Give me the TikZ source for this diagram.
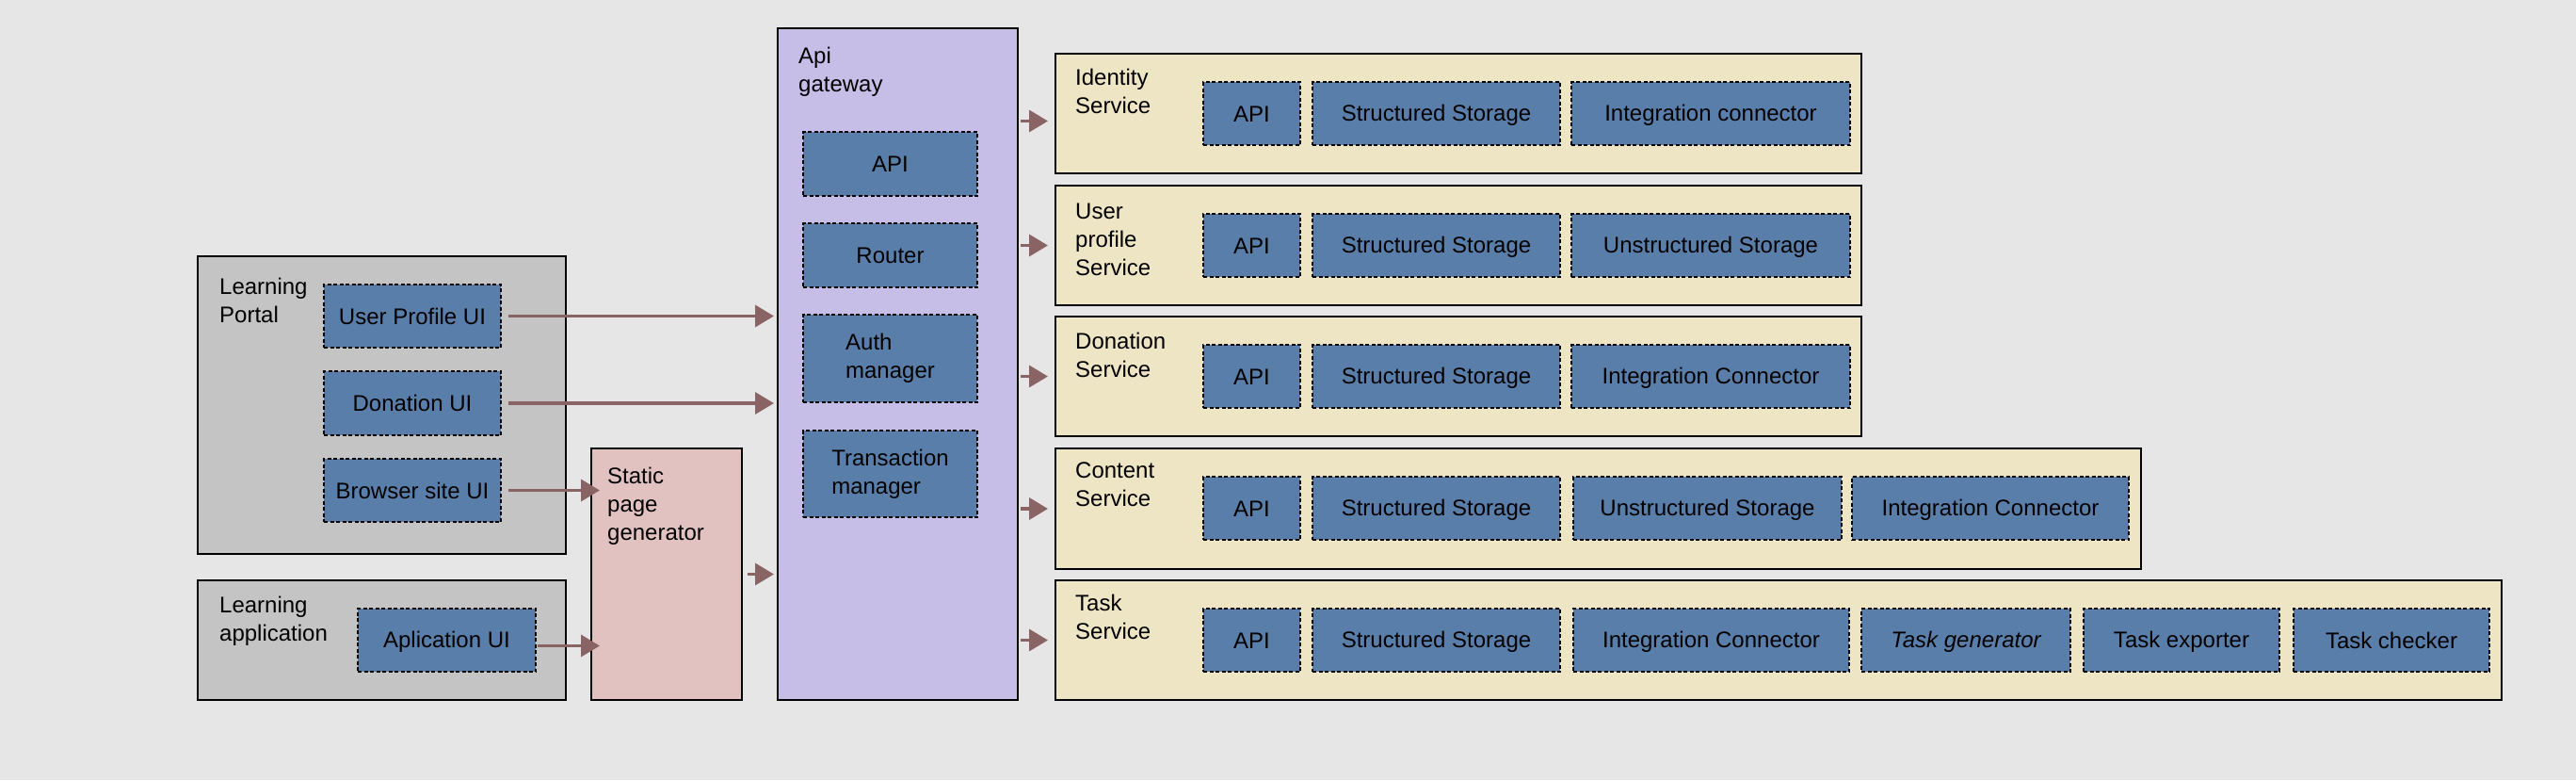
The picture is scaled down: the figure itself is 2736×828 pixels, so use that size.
\documentclass[tikz,border=0pt]{standalone}
\usepackage{fontspec}
\setmainfont{Liberation Sans}
\usetikzlibrary{arrows.meta, calc}

\definecolor{bgcol}{HTML}{E6E6E6}
\definecolor{greybox}{HTML}{C4C4C4}
\definecolor{partblue}{HTML}{5A7EAA}
\definecolor{pinkbox}{HTML}{E2C1C1}
\definecolor{lilacbox}{HTML}{C7BEE7}
\definecolor{sandbox}{HTML}{EDE5C4}
\definecolor{flowcol}{HTML}{8A6464}

\newcommand{\partstrut}{\rule[-4pt]{0pt}{25pt}}

\begin{document}
\begin{tikzpicture}[x=1pt, y=-1pt,
  container/.style={draw=black, line width=2.5pt, anchor=north west, inner sep=0pt, outer sep=0pt},
  part/.style={draw=black, fill=partblue, line width=1.4pt, dash pattern=on 4pt off 2.5pt,
    anchor=north west, inner sep=0pt, outer sep=0pt, minimum height=67pt,
    font=\fontsize{24}{30}\selectfont, align=left,
    execute at begin node=\partstrut, execute at end node=\partstrut},
  caption/.style={anchor=north west, inner sep=0pt, align=left, font=\fontsize{24}{30}\selectfont},
  flow/.style={draw=flowcol, line width=3.5pt, -{Triangle[length=20pt,width=23pt]}},
]
\useasboundingbox (0,0) rectangle (2736,828);
\fill[bgcol] (0,0) rectangle (2736,828);

% clients
\node[container, fill=greybox, minimum width=391pt, minimum height=316pt] (portal) at (210,272) {};
\node[caption] at ([shift={(23,23)}]portal.north west) {Learning\\Portal};
\node[part, minimum width=188pt] (upui) at (344,302) {User Profile UI};
\node[part, minimum width=188pt, minimum height=68pt] (donui) at (344,394) {Donation UI};
\node[part, minimum width=188pt] (bsui) at (344,487) {Browser site UI};

\node[container, fill=greybox, minimum width=391pt, minimum height=127pt] (app) at (210,616) {};
\node[caption] at ([shift={(23,17)}]app.north west) {Learning\\application};
\node[part, minimum width=189pt] (apui) at (380,646) {Aplication UI};

\node[container, fill=pinkbox, minimum width=160pt, minimum height=267pt] (static) at (628,476) {};
\node[caption] at ([shift={(17,20)}]static.north west) {Static\\page\\generator};

% gateway
\node[container, fill=lilacbox, minimum width=255pt, minimum height=713pt] (gw) at (826,30) {};
\node[caption] at ([shift={(22,20)}]gw.north west) {Api\\gateway};
\node[part, minimum width=185pt, minimum height=68pt] (gapi) at (853,140) {API};
\node[part, minimum width=185pt, minimum height=68pt] (grouter) at (853,237) {Router};
\node[part, minimum width=185pt, minimum height=93pt] (gauth) at (853,334) {Auth\\manager};
\node[part, minimum width=185pt, minimum height=92pt] (gtrans) at (853,457) {Transaction\\manager};

% services
\node[container, fill=sandbox, minimum width=856pt, minimum height=127pt] (id) at (1121,57) {};
\node[caption] at ([shift={(21,16)}]id.north west) {Identity\\Service};
\node[part, minimum width=103pt] (idapi) at (1278,87) {API};
\node[part, minimum width=263pt] (idstore) at (1394,87) {Structured Storage};
\node[part, minimum width=296pt] (idconn) at (1669,87) {Integration connector};

\node[container, fill=sandbox, minimum width=856pt, minimum height=127pt] (usr) at (1121,197) {};
\node[caption] at ([shift={(21,19)}]usr.north west) {User\\profile\\Service};
\node[part, minimum width=103pt] (usrapi) at (1278,227) {API};
\node[part, minimum width=263pt] (usrstore) at (1394,227) {Structured Storage};
\node[part, minimum width=296pt] (usrblob) at (1669,227) {Unstructured Storage};

\node[container, fill=sandbox, minimum width=856pt, minimum height=127pt] (don) at (1121,336) {};
\node[caption] at ([shift={(21,17)}]don.north west) {Donation\\Service};
\node[part, minimum width=103pt] (donapi) at (1278,366) {API};
\node[part, minimum width=263pt] (donstore) at (1394,366) {Structured Storage};
\node[part, minimum width=296pt] (donconn) at (1669,366) {Integration Connector};

\node[container, fill=sandbox, minimum width=1153pt, minimum height=128pt] (cnt) at (1121,476) {};
\node[caption] at ([shift={(21,15)}]cnt.north west) {Content\\Service};
\node[part, minimum width=103pt] (cntapi) at (1278,506) {API};
\node[part, minimum width=263pt] (cntstore) at (1394,506) {Structured Storage};
\node[part, minimum width=285pt] (cntblob) at (1671,506) {Unstructured Storage};
\node[part, minimum width=294pt] (cntconn) at (1967,506) {Integration Connector};

\node[container, fill=sandbox, minimum width=1536pt, minimum height=127pt] (task) at (1121,616) {};
\node[caption] at ([shift={(21,15)}]task.north west) {Task\\Service};
\node[part, minimum width=103pt] (taskapi) at (1278,646) {API};
\node[part, minimum width=263pt] (taskstore) at (1394,646) {Structured Storage};
\node[part, minimum width=293pt] (taskconn) at (1671,646) {Integration Connector};
\node[part, minimum width=222pt] (taskgen) at (1977,646) {\itshape Task generator};
\node[part, minimum width=208pt] (taskexp) at (2213,646) {Task exporter};
\node[part, minimum width=208pt] (taskchk) at (2436,646) {Task checker};

% connectors
\draw[flow, shorten <=8pt, shorten >=4pt] (upui) -- (upui -| gw.west);
\draw[flow, shorten <=8pt, shorten >=4pt] (donui) -- (donui -| gw.west);
\draw[flow, shorten <=8pt, shorten >=-9pt] (bsui) -- (bsui -| static.west);
\draw[flow, shorten <=2pt, shorten >=-9pt] ([yshift=-6pt]apui.east) -- ([yshift=-6pt]apui.east -| static.west);
\draw[flow, shorten <=6pt, shorten >=4pt] (static) -- (static -| gw.west);
\draw[flow, shorten <=3pt, shorten >=8pt] ([yshift=-8pt]gw.east |- id.west) -- ([yshift=-8pt]id.west);
\draw[flow, shorten <=3pt, shorten >=8pt] (gw.east |- usr.west) -- (usr.west);
\draw[flow, shorten <=3pt, shorten >=8pt] (gw.east |- don.west) -- (don.west);
\draw[flow, shorten <=3pt, shorten >=8pt] (gw.east |- cnt.west) -- (cnt.west);
\draw[flow, shorten <=3pt, shorten >=8pt] (gw.east |- task.west) -- (task.west);
\end{tikzpicture}
\end{document}
